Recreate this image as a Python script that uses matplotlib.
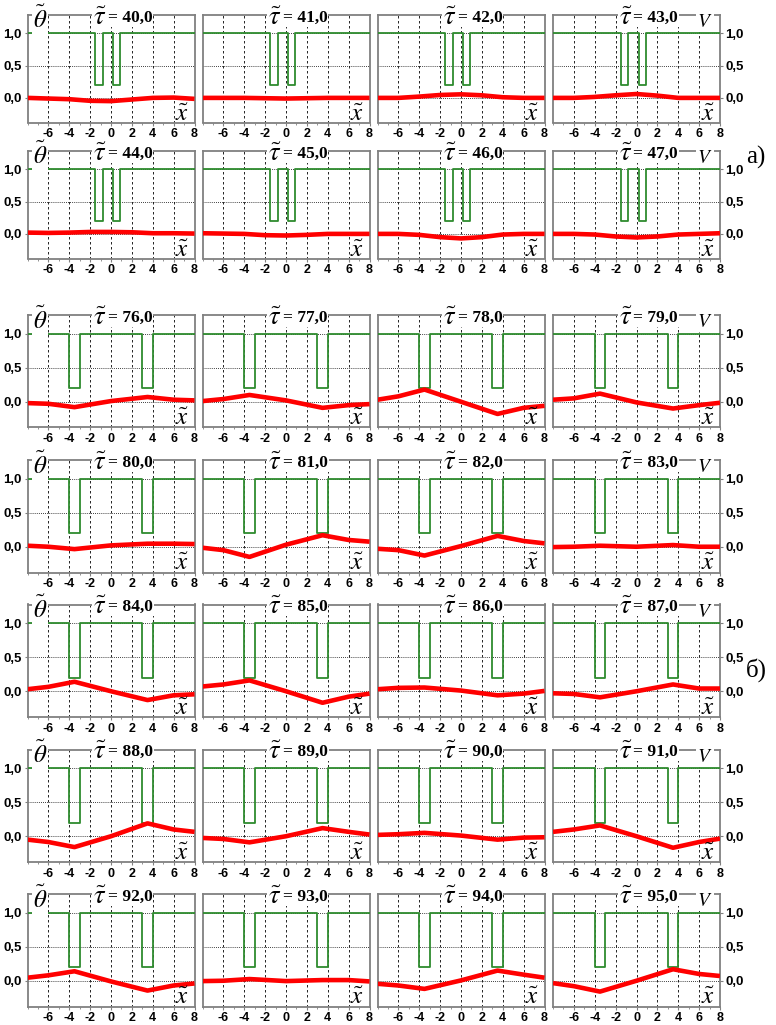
import matplotlib
matplotlib.use("Agg")
import matplotlib.pyplot as plt
import numpy as np
from matplotlib.ticker import FuncFormatter, MultipleLocator

plt.rcParams['mathtext.fontset'] = 'stix'

# ---------------- data ----------------
times_a = [40, 41, 42, 43, 44, 45, 46, 47]
times_b = [76, 77, 78, 79, 80, 81, 82, 83, 84, 85, 86, 87,
           88, 89, 90, 91, 92, 93, 94, 95]

wells_a = [(-1.5, -0.78), (0.2, 0.9)]
wells_b = [(-4.0, -3.0), (3.0, 4.0)]
v_high = 1.0
v_low = 0.2

x_a = [-8, -6, -4, -2, 0, 2, 4, 6, 8]
theta_a = [
    [0.0, -0.01, -0.02, -0.045, -0.05, -0.025, 0.0, 0.005, -0.015],   # 40
    [0.0, 0.0, 0.0, -0.005, -0.01, -0.005, 0.0, 0.0, 0.0],            # 41
    [0.0, 0.0, 0.02, 0.045, 0.055, 0.04, 0.01, 0.0, 0.0],             # 42
    [0.0, 0.0, 0.015, 0.04, 0.06, 0.035, 0.0, 0.0, 0.0],              # 43
    [0.02, 0.015, 0.02, 0.03, 0.03, 0.025, 0.01, 0.01, 0.005],        # 44
    [0.01, 0.005, 0.0, -0.02, -0.025, -0.015, 0.0, 0.0, 0.0],         # 45
    [0.0, 0.0, -0.015, -0.05, -0.07, -0.05, -0.01, 0.0, 0.0],         # 46
    [0.0, 0.0, -0.01, -0.04, -0.055, -0.04, -0.01, 0.0, 0.01],        # 47
]

x_b = [-8, -6, -3.5, 0, 3.5, 6, 8]
theta_b = [
    [-0.02, -0.03, -0.08, 0.01, 0.07, 0.03, 0.02],      # 76
    [0.01, 0.04, 0.10, 0.02, -0.09, -0.05, -0.035],     # 77
    [0.03, 0.08, 0.18, 0.0, -0.18, -0.09, -0.06],       # 78
    [0.03, 0.05, 0.12, -0.01, -0.10, -0.05, -0.015],    # 79
    [0.015, 0.0, -0.035, 0.02, 0.045, 0.045, 0.04],     # 80
    [-0.015, -0.05, -0.15, 0.03, 0.17, 0.10, 0.075],    # 81
    [-0.03, -0.05, -0.13, 0.01, 0.16, 0.085, 0.05],     # 82
    [-0.005, 0.0, 0.015, 0.0, 0.025, 0.0, 0.0],         # 83
    [0.03, 0.065, 0.14, 0.0, -0.13, -0.06, -0.045],     # 84
    [0.07, 0.10, 0.16, 0.0, -0.17, -0.08, -0.035],      # 85
    [0.03, 0.05, 0.055, 0.01, -0.06, -0.035, 0.005],    # 86
    [-0.03, -0.04, -0.09, 0.0, 0.10, 0.04, 0.04],       # 87
    [-0.05, -0.085, -0.16, 0.0, 0.19, 0.10, 0.065],     # 88
    [-0.025, -0.04, -0.09, 0.0, 0.12, 0.065, 0.025],    # 89
    [0.02, 0.03, 0.05, 0.01, -0.05, -0.02, -0.015],     # 90
    [0.065, 0.10, 0.16, 0.0, -0.17, -0.085, -0.035],    # 91
    [0.045, 0.08, 0.14, -0.01, -0.145, -0.07, -0.04],   # 92
    [-0.005, 0.0, 0.025, -0.005, 0.01, 0.01, -0.01],    # 93
    [-0.045, -0.07, -0.12, 0.005, 0.15, 0.09, 0.045],   # 94
    [-0.035, -0.08, -0.16, 0.0, 0.17, 0.10, 0.07],      # 95
]

x_ticks = [-6, -4, -2, 0, 2, 4, 6, 8]
y_ticks = [0.0, 0.5, 1.0]

# ---------------- layout ----------------
W, H = 776, 1025
fig = plt.figure(figsize=(W / 100, H / 100), dpi=100)
col_left = [27.5, 202.5, 377.5, 553.0]
ax_w = 167.0
tops_a = [15.0, 151.0]
h_a = 107.5
tops_b = [315.0, 460.0, 604.5, 749.5, 894.0]
h_b = 112.5

GREEN = '#2e8b2e'
RED = '#ff0000'
FRAME = '#808080'


def well_profile(wells):
    xs = [-8.0]
    ys = [v_high]
    for a, b in wells:
        xs += [a, a, b, b]
        ys += [v_high, v_low, v_low, v_high]
    xs.append(8.0)
    ys.append(v_high)
    return xs, ys


comma = FuncFormatter(lambda v, p: f"{v:.1f}".replace('.', ','))
xfmt = FuncFormatter(lambda v, p: f"{int(v)}")


def make_panel(left, top, height, col, t, xs, ys, wells):
    ax = fig.add_axes([left / W, 1 - (top + height) / H, ax_w / W, height / H])
    ax.set_xlim(-8, 8)
    ax.set_ylim(-0.38, 1.28)
    wx, wy = well_profile(wells)
    ax.plot(wx, wy, color=GREEN, lw=1.3, zorder=3)
    ax.plot(xs, ys, color=RED, lw=3.3, solid_capstyle='butt', zorder=4)
    for v in x_ticks[:-1]:
        ax.axvline(v, color='black', lw=0.6, ls=(0, (3, 3)), zorder=1)
    for v in y_ticks:
        ax.axhline(v, color='black', lw=0.6, ls=(0, (1, 1.5)), zorder=1)
    for s in ax.spines.values():
        s.set_color(FRAME)
        s.set_linewidth(1.3)
    ax.set_xticks(x_ticks)
    ax.xaxis.set_major_formatter(xfmt)
    ax.xaxis.set_minor_locator(MultipleLocator(1))
    ax.tick_params(axis='x', which='both', direction='out', length=2.5,
                   color=FRAME, pad=1.5, labelsize=9)
    ax.tick_params(axis='x', which='minor', length=1.5)
    for lab in ax.get_xticklabels():
        lab.set_fontweight('bold')
        lab.set_family('Liberation Sans')
    ax.set_yticks(y_ticks)
    ax.yaxis.set_major_formatter(comma)
    if col == 0:
        ax.tick_params(axis='y', direction='out', length=2.5, color=FRAME,
                       pad=1.5, labelsize=9.5)
    elif col == 3:
        ax.yaxis.tick_right()
        ax.tick_params(axis='y', direction='out', length=2.5, color=FRAME,
                       pad=1.5, labelsize=9.5)
    else:
        ax.tick_params(axis='y', length=0, labelleft=False)
    for lab in ax.get_yticklabels():
        lab.set_fontweight('bold')
        lab.set_family('Liberation Sans')
    wb = dict(facecolor='white', edgecolor='none', pad=0.8)
    ax.text(0.475, 0.975, r'$\tilde{\tau}$', transform=ax.transAxes,
            ha='right', va='center', fontsize=19, bbox=wb, zorder=6,
            clip_on=False)
    ax.text(0.48, 0.975, f'= {t},0', transform=ax.transAxes,
            ha='left', va='center', fontsize=12.5, fontweight='bold',
            family='Liberation Serif', bbox=wb, zorder=6, clip_on=False)
    ax.text(0.925, 0.08, r'$\tilde{x}$', transform=ax.transAxes,
            ha='center', va='center', fontsize=18, zorder=5)
    if col == 0:
        ax.text(0.075, 0.955, r'$\tilde{\theta}$', transform=ax.transAxes,
                ha='center', va='center', fontsize=18, bbox=wb, zorder=6,
                clip_on=False)
    if col == 3:
        ax.text(0.91, 0.94, r'$V$', transform=ax.transAxes,
                ha='center', va='center', fontsize=14, bbox=wb, zorder=6)
    return ax


for i, t in enumerate(times_a):
    r, c = divmod(i, 4)
    make_panel(col_left[c], tops_a[r], h_a, c, t, x_a, theta_a[i], wells_a)

for i, t in enumerate(times_b):
    r, c = divmod(i, 4)
    make_panel(col_left[c], tops_b[r], h_b, c, t, x_b, theta_b[i], wells_b)

fig.text(756 / W, 1 - 157 / H, 'а)', ha='center', va='center', fontsize=18,
         family='Liberation Serif')
fig.text(756 / W, 1 - 670 / H, 'б)', ha='center', va='center', fontsize=18,
         family='Liberation Serif')

fig.savefig('out.png', dpi=100)
